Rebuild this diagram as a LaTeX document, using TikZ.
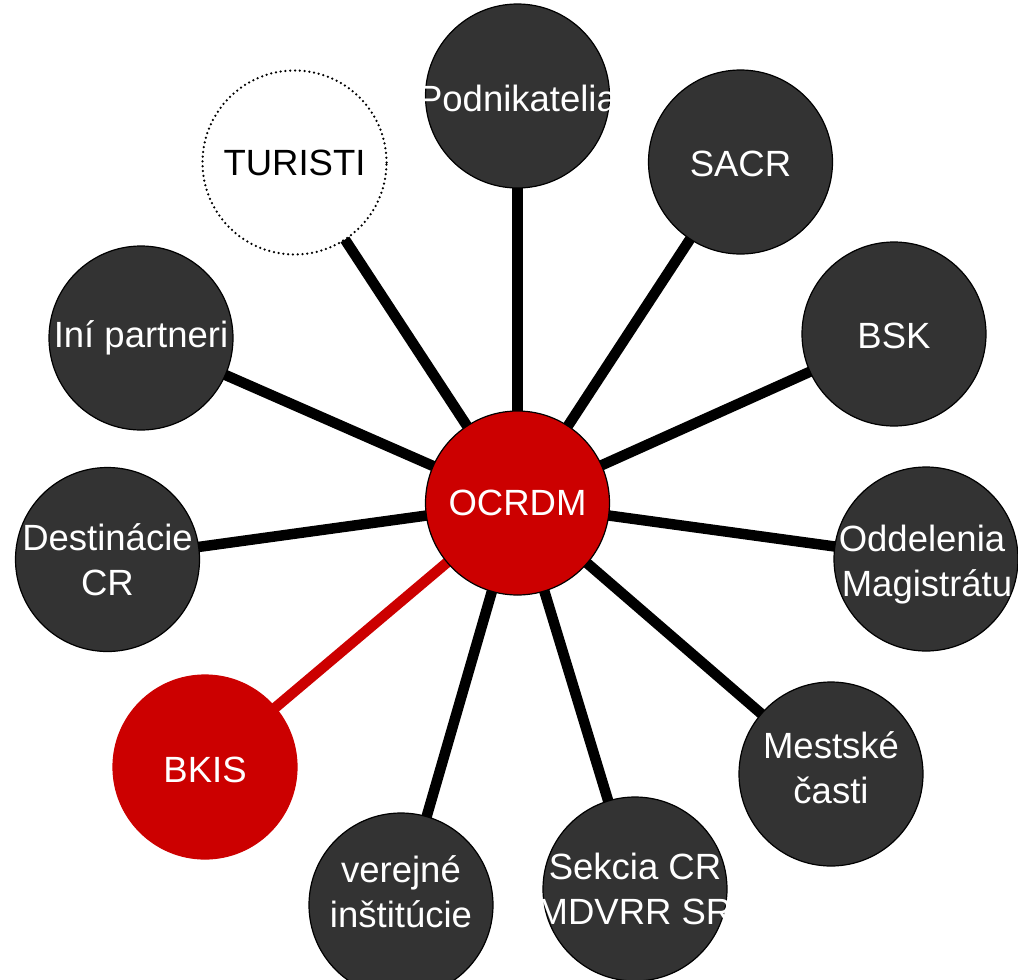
\documentclass[tikz,border=0pt]{standalone}
\usepackage{fontspec}
\setmainfont{Liberation Sans}
\definecolor{dark}{HTML}{333333}
\definecolor{ocred}{HTML}{CC0000}
\pgfdeclarelayer{bg}
\pgfsetlayers{bg,main}
\begin{document}
\begin{tikzpicture}[x=1pt,y=-1pt,
  disc/.style={circle,minimum size=184pt,inner sep=0pt,draw=black,line width=1.2pt},
  sat/.style={disc,fill=dark},
  hubdisc/.style={disc,fill=ocred},
  reddisc/.style={disc,fill=ocred,draw=ocred},
  dotdisc/.style={disc,fill=white,line width=2.5pt,dash pattern=on 0pt off 4.8pt,line cap=round},
  lbl/.style={text=white,align=center,inner sep=0pt,font=\fontsize{36.5}{45}\selectfont},
  link/.style={line width=10.5pt,draw=black},
  redlink/.style={line width=10.5pt,draw=ocred}]
\useasboundingbox (0,0) rectangle (1018,980);
\node[hubdisc] (o) at (517.5,503) {};
\node[sat] (pod) at (517.5,96) {};
\node[sat] (sacr) at (740.5,162) {};
\node[sat] (bsk) at (894,334) {};
\node[sat] (odd) at (926,559) {};
\node[sat] (mes) at (831,774) {};
\node[sat] (sek) at (635,889) {};
\node[sat] (ver) at (401,905) {};
\node[reddisc] (bkis) at (205,767) {};
\node[sat] (des) at (107.5,559.5) {};
\node[sat] (ini) at (141,338) {};
\node[dotdisc] (tur) at (294.5,162.5) {};
\begin{pgfonlayer}{bg}
\foreach \n in {pod,sacr,bsk,odd,mes,sek,ver,des,ini,tur}
  \draw[link] (o.center) -- (\n.center);
\draw[redlink] (o.center) -- (bkis.center);
\end{pgfonlayer}
\node[lbl] (to) at (o) {OCRDM};
\node[lbl] (tpod) at ([yshift=-2pt]pod.center) {Podnikatelia};
\node[lbl] (tsacr) at ([yshift=-2pt]sacr.center) {SACR};
\node[lbl] (tbsk) at ([yshift=-2pt]bsk.center) {BSK};
\node[lbl] (todd) at ([yshift=-6pt,xshift=1pt]odd.center) {Oddelenia\hspace*{10pt}\\Magistrátu};
\node[lbl] (tmes) at ([yshift=6pt]mes.center) {Mestské\\časti};
\node[lbl] (tsek) at (sek) {Sekcia CR\\MDVRR SR};
\node[lbl] (tver) at ([yshift=13pt]ver.center) {verejné\\inštitúcie};
\node[lbl] (tbkis) at ([yshift=-3pt]bkis.center) {BKIS};
\node[lbl] (tdes) at (des) {Destinácie\\CR};
\node[lbl] (tini) at (ini) {Iní partneri};
\node[lbl,text=black] (ttur) at (tur) {TURISTI};
\end{tikzpicture}
\end{document}
